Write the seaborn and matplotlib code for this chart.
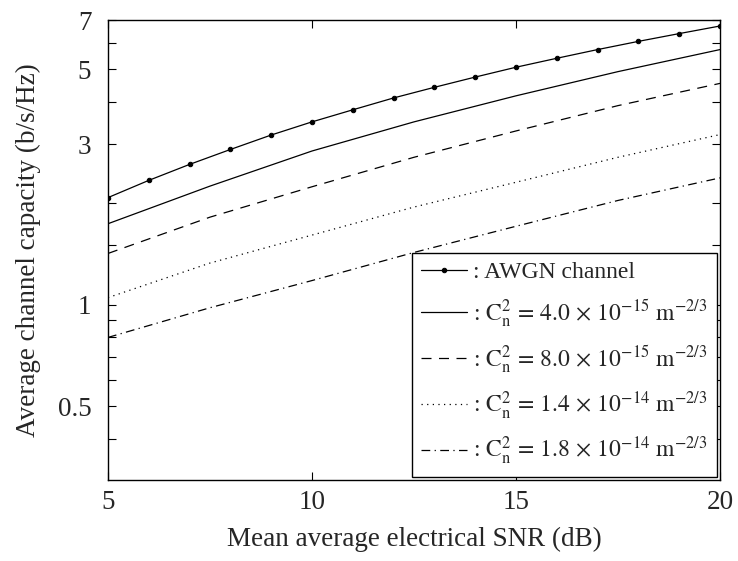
import matplotlib
matplotlib.use("Agg")
import numpy as np
import pandas as pd
import matplotlib.pyplot as plt
import matplotlib.ticker as mticker
import seaborn as sns

# ---- data ----
snr_awgn = [5, 6, 7, 8, 9, 10, 11, 12, 13, 14, 15, 16, 17, 18, 19, 20]
cap_awgn = [2.08, 2.34, 2.61, 2.89, 3.19, 3.49, 3.79, 4.11, 4.42, 4.74,
            5.07, 5.39, 5.72, 6.05, 6.38, 6.72]

snr = [5, 7.5, 10, 12.5, 15, 17.5, 20]
cap_4e15 = [1.74, 2.25, 2.86, 3.49, 4.17, 4.92, 5.72]
cap_8e15 = [1.42, 1.82, 2.24, 2.74, 3.28, 3.90, 4.54]
cap_14e14 = [1.05, 1.33, 1.61, 1.95, 2.31, 2.74, 3.20]
cap_18e14 = [0.80, 0.98, 1.18, 1.43, 1.71, 2.04, 2.38]

labels = [
    ": AWGN channel",
    r": $\mathrm{C}_\mathrm{n}^2\,=\,4.0\,\times\,10^{-15}\ \mathrm{m}^{-2/3}$",
    r": $\mathrm{C}_\mathrm{n}^2\,=\,8.0\,\times\,10^{-15}\ \mathrm{m}^{-2/3}$",
    r": $\mathrm{C}_\mathrm{n}^2\,=\,1.4\,\times\,10^{-14}\ \mathrm{m}^{-2/3}$",
    r": $\mathrm{C}_\mathrm{n}^2\,=\,1.8\,\times\,10^{-14}\ \mathrm{m}^{-2/3}$",
]

y_major = [0.5, 1, 3, 5, 7]
y_minor = [0.4, 0.6, 0.7, 0.8, 0.9, 1.5, 2, 4, 6]
x_major = [5, 10, 15, 20]

# ---- style ----
sns.set_style("ticks")
plt.rcParams["font.family"] = ["Liberation Serif", "DejaVu Serif"]
plt.rcParams["mathtext.fontset"] = "stix"

fig, ax = plt.subplots(figsize=(7.38, 5.61), dpi=100)
fig.subplots_adjust(left=0.1463, right=0.9756, top=0.9643, bottom=0.1444)

lw = 0.9
sns.lineplot(x=snr_awgn, y=cap_awgn, ax=ax, color="k", lw=lw, marker="o",
             markersize=3.2, markeredgecolor="k", markerfacecolor="k",
             label=labels[0])
sns.lineplot(x=snr, y=cap_4e15, ax=ax, color="k", lw=lw, linestyle="-",
             label=labels[1])
sns.lineplot(x=snr, y=cap_8e15, ax=ax, color="k", lw=lw,
             linestyle=(0, (8, 6)), label=labels[2])
sns.lineplot(x=snr, y=cap_14e14, ax=ax, color="k", lw=lw,
             linestyle=(0, (1, 3.5)), label=labels[3])
sns.lineplot(x=snr, y=cap_18e14, ax=ax, color="k", lw=lw,
             linestyle=(0, (7, 3.5, 1, 3.5)), label=labels[4])

ax.set_yscale("log")
ax.set_xlim(5, 20)
ax.set_ylim(0.302, 7)
ax.yaxis.set_major_locator(mticker.FixedLocator(y_major))
ax.yaxis.set_major_formatter(mticker.FixedFormatter([str(v) for v in y_major]))
ax.yaxis.set_minor_locator(mticker.FixedLocator(y_minor))
ax.yaxis.set_minor_formatter(mticker.NullFormatter())
ax.xaxis.set_major_locator(mticker.FixedLocator(x_major))
ax.xaxis.set_minor_locator(mticker.NullLocator())

ax.tick_params(which="both", direction="in", top=True, right=True,
               width=0.8, color="k", labelsize=19.5, length=6)
ax.tick_params(axis="y", which="both", pad=12)
ax.tick_params(axis="x", which="both", pad=7)

for s in ax.spines.values():
    s.set_visible(True)
    s.set_linewidth(1.0)
    s.set_color("k")

ax.set_xlabel("Mean average electrical SNR (dB)", fontsize=19.5, labelpad=9)
ax.set_ylabel("Average channel capacity (b/s/Hz)", fontsize=19.5, labelpad=12)

leg = ax.legend(loc="lower right", fontsize=17, frameon=True, fancybox=False,
                edgecolor="k", framealpha=1, numpoints=1, handlelength=1.95,
                handletextpad=0.25, labelspacing=0.58, borderaxespad=0.13,
                borderpad=0.4)
leg.get_frame().set_linewidth(1.0)

fig.savefig("out.png", dpi=100)
